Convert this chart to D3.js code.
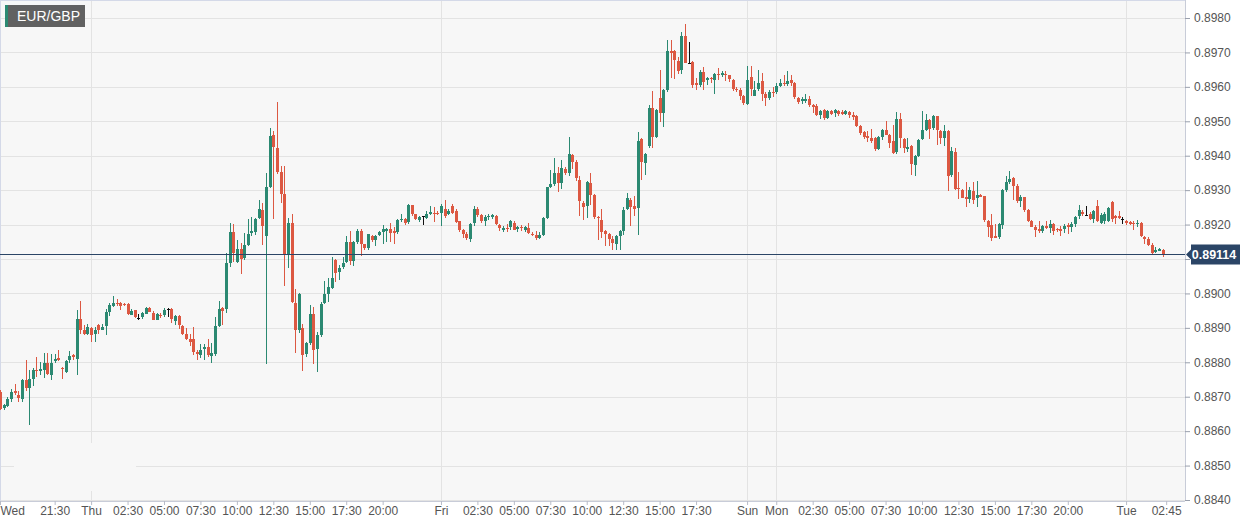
<!DOCTYPE html>
<html>
<head>
<meta charset="utf-8">
<script src="https://cdn.jsdelivr.net/npm/d3@7"></script>
<style>
  html, body { margin: 0; padding: 0; background: #fff; }
  svg { display: block; font-family: "Liberation Sans", Arial, sans-serif; }
</style>
</head>
<body>
<svg id="chart" width="1256" height="527"></svg>
<script>
// EUR/GBP, 15 minute candles
const symbol = "EUR/GBP";
const lastPrice = 0.89114;

// time is counted in hours from Wed 00:00 with the weekend gap taken out
const firstSlot = 17.75;   // Wed 17:45
const slotHours = 0.25;    // 15 min
const viewHours = [17.75, 99.0];

const opens = [
  0.88714, 0.88665, 0.88675, 0.88694, 0.88716, 0.88704, 0.88694, 0.88748, 0.88726, 0.88752,
  0.88779, 0.88775, 0.88779, 0.88798, 0.88764, 0.88804, 0.88811, 0.88784, 0.88771, 0.88804,
  0.88821, 0.88811, 0.88927, 0.88895, 0.88882, 0.88901, 0.88882, 0.88908, 0.88895, 0.88905,
  0.88947, 0.88963, 0.88973, 0.88971, 0.88969, 0.88968, 0.88939, 0.88951, 0.88930, 0.88930,
  0.88942, 0.88959, 0.88944, 0.88924, 0.88937, 0.88937, 0.88956, 0.88954, 0.88920, 0.88934,
  0.88905, 0.88883, 0.88869, 0.88869, 0.88830, 0.88823, 0.88840, 0.88843, 0.88819, 0.88825,
  0.88905, 0.88959, 0.88954, 0.89089, 0.89177, 0.89090, 0.89129, 0.89102, 0.89141, 0.89173,
  0.89177, 0.89218, 0.89241, 0.89167, 0.89309, 0.89461, 0.89422, 0.89354, 0.89289, 0.89115,
  0.89206, 0.88971, 0.88893, 0.88900, 0.88822, 0.88855, 0.88939, 0.88836, 0.88881, 0.88970,
  0.88997, 0.89018, 0.89096, 0.89062, 0.89075, 0.89091, 0.89150, 0.89096, 0.89150, 0.89182,
  0.89143, 0.89130, 0.89167, 0.89156, 0.89169, 0.89177, 0.89183, 0.89188, 0.89182, 0.89177,
  0.89211, 0.89217, 0.89206, 0.89256, 0.89230, 0.89213, 0.89224, 0.89220, 0.89230, 0.89235,
  0.89235, 0.89234, 0.89244, 0.89230, 0.89255, 0.89240, 0.89209, 0.89183, 0.89172, 0.89160,
  0.89203, 0.89245, 0.89228, 0.89211, 0.89220, 0.89222, 0.89225, 0.89199, 0.89186, 0.89191,
  0.89191, 0.89206, 0.89186, 0.89193, 0.89185, 0.89191, 0.89174, 0.89170, 0.89160, 0.89170,
  0.89218, 0.89308, 0.89317, 0.89349, 0.89319, 0.89361, 0.89349, 0.89403, 0.89383, 0.89329,
  0.89264, 0.89254, 0.89322, 0.89286, 0.89222, 0.89214, 0.89182, 0.89173, 0.89158, 0.89144,
  0.89168, 0.89182, 0.89245, 0.89272, 0.89255, 0.89250, 0.89449, 0.89381, 0.89429, 0.89540,
  0.89454, 0.89569, 0.89524, 0.89590, 0.89703, 0.89703, 0.89676, 0.89648, 0.89748, 0.89669,
  0.89672, 0.89611, 0.89604, 0.89643, 0.89618, 0.89625, 0.89621, 0.89638, 0.89635, 0.89638,
  0.89633, 0.89621, 0.89594, 0.89590, 0.89572, 0.89551, 0.89629, 0.89576, 0.89592, 0.89618,
  0.89580, 0.89569, 0.89585, 0.89585, 0.89602, 0.89610, 0.89608, 0.89620, 0.89612, 0.89569,
  0.89559, 0.89561, 0.89566, 0.89546, 0.89544, 0.89517, 0.89534, 0.89510, 0.89530, 0.89524,
  0.89530, 0.89527, 0.89522, 0.89527, 0.89517, 0.89514, 0.89485, 0.89468, 0.89456, 0.89452,
  0.89452, 0.89420, 0.89454, 0.89475, 0.89461, 0.89444, 0.89410, 0.89507, 0.89449, 0.89420,
  0.89429, 0.89374, 0.89400, 0.89449, 0.89475, 0.89504, 0.89478, 0.89514, 0.89471, 0.89452,
  0.89473, 0.89342, 0.89410, 0.89306, 0.89301, 0.89279, 0.89272, 0.89297, 0.89279, 0.89286,
  0.89282, 0.89210, 0.89200, 0.89168, 0.89163, 0.89200, 0.89299, 0.89323, 0.89335, 0.89313,
  0.89270, 0.89279, 0.89241, 0.89210, 0.89194, 0.89187, 0.89182, 0.89197, 0.89190, 0.89202,
  0.89187, 0.89187, 0.89187, 0.89200, 0.89194, 0.89202, 0.89223, 0.89236, 0.89229, 0.89231,
  0.89217, 0.89255, 0.89207, 0.89210, 0.89212, 0.89265, 0.89226, 0.89226, 0.89217, 0.89210,
  0.89207, 0.89204, 0.89200, 0.89204, 0.89165, 0.89158, 0.89142, 0.89119, 0.89124, 0.89126
];

const highs = [
  0.88720, 0.88680, 0.88700, 0.88723, 0.88738, 0.88718, 0.88752, 0.88806, 0.88779, 0.88782,
  0.88816, 0.88801, 0.88827, 0.88827, 0.88825, 0.88823, 0.88837, 0.88785, 0.88806, 0.88832,
  0.88825, 0.88953, 0.88977, 0.88908, 0.88911, 0.88903, 0.88903, 0.88910, 0.88911, 0.88956,
  0.88971, 0.88992, 0.88983, 0.88976, 0.88971, 0.88971, 0.88956, 0.88953, 0.88940, 0.88947,
  0.88961, 0.88961, 0.88950, 0.88942, 0.88944, 0.88959, 0.88959, 0.88959, 0.88936, 0.88936,
  0.88908, 0.88901, 0.88882, 0.88903, 0.88835, 0.88854, 0.88852, 0.88869, 0.88856, 0.88932,
  0.88978, 0.88961, 0.89117, 0.89206, 0.89202, 0.89155, 0.89146, 0.89175, 0.89216, 0.89223,
  0.89218, 0.89272, 0.89264, 0.89350, 0.89481, 0.89471, 0.89555, 0.89371, 0.89371, 0.89218,
  0.89231, 0.89012, 0.89000, 0.88912, 0.88858, 0.88965, 0.88960, 0.88887, 0.88975, 0.89036,
  0.89046, 0.89106, 0.89101, 0.89084, 0.89106, 0.89166, 0.89182, 0.89152, 0.89188, 0.89188,
  0.89145, 0.89174, 0.89169, 0.89169, 0.89182, 0.89198, 0.89191, 0.89205, 0.89193, 0.89217,
  0.89230, 0.89218, 0.89261, 0.89258, 0.89232, 0.89224, 0.89226, 0.89240, 0.89253, 0.89251,
  0.89240, 0.89261, 0.89271, 0.89244, 0.89260, 0.89245, 0.89211, 0.89186, 0.89177, 0.89206,
  0.89254, 0.89251, 0.89230, 0.89228, 0.89230, 0.89232, 0.89228, 0.89201, 0.89196, 0.89203,
  0.89213, 0.89211, 0.89196, 0.89199, 0.89196, 0.89206, 0.89177, 0.89182, 0.89177, 0.89222,
  0.89310, 0.89358, 0.89393, 0.89366, 0.89387, 0.89366, 0.89455, 0.89405, 0.89387, 0.89342,
  0.89269, 0.89327, 0.89349, 0.89288, 0.89225, 0.89245, 0.89185, 0.89175, 0.89166, 0.89170,
  0.89185, 0.89251, 0.89293, 0.89277, 0.89282, 0.89468, 0.89451, 0.89408, 0.89548, 0.89587,
  0.89535, 0.89648, 0.89594, 0.89735, 0.89737, 0.89708, 0.89688, 0.89758, 0.89783, 0.89730,
  0.89674, 0.89625, 0.89650, 0.89657, 0.89630, 0.89630, 0.89640, 0.89655, 0.89647, 0.89645,
  0.89635, 0.89623, 0.89599, 0.89596, 0.89577, 0.89661, 0.89660, 0.89618, 0.89649, 0.89641,
  0.89585, 0.89592, 0.89600, 0.89610, 0.89624, 0.89634, 0.89647, 0.89634, 0.89615, 0.89571,
  0.89571, 0.89579, 0.89573, 0.89551, 0.89549, 0.89532, 0.89537, 0.89534, 0.89532, 0.89537,
  0.89534, 0.89532, 0.89534, 0.89530, 0.89527, 0.89517, 0.89488, 0.89473, 0.89471, 0.89478,
  0.89454, 0.89456, 0.89478, 0.89502, 0.89463, 0.89488, 0.89527, 0.89523, 0.89452, 0.89452,
  0.89432, 0.89403, 0.89449, 0.89531, 0.89521, 0.89507, 0.89519, 0.89516, 0.89475, 0.89490,
  0.89475, 0.89424, 0.89423, 0.89352, 0.89303, 0.89323, 0.89310, 0.89323, 0.89326, 0.89289,
  0.89284, 0.89213, 0.89231, 0.89202, 0.89204, 0.89303, 0.89342, 0.89355, 0.89339, 0.89318,
  0.89287, 0.89281, 0.89245, 0.89212, 0.89200, 0.89210, 0.89200, 0.89210, 0.89214, 0.89204,
  0.89190, 0.89197, 0.89202, 0.89204, 0.89207, 0.89226, 0.89258, 0.89243, 0.89255, 0.89236,
  0.89243, 0.89270, 0.89233, 0.89236, 0.89250, 0.89268, 0.89229, 0.89239, 0.89221, 0.89214,
  0.89210, 0.89210, 0.89212, 0.89207, 0.89168, 0.89163, 0.89146, 0.89134, 0.89132, 0.89129
];

const lows = [
  0.88660, 0.88660, 0.88670, 0.88684, 0.88704, 0.88684, 0.88684, 0.88718, 0.88619, 0.88730,
  0.88757, 0.88762, 0.88755, 0.88762, 0.88750, 0.88798, 0.88804, 0.88751, 0.88769, 0.88798,
  0.88806, 0.88764, 0.88883, 0.88879, 0.88879, 0.88859, 0.88859, 0.88883, 0.88893, 0.88879,
  0.88934, 0.88961, 0.88963, 0.88953, 0.88964, 0.88937, 0.88937, 0.88930, 0.88922, 0.88927,
  0.88940, 0.88945, 0.88922, 0.88922, 0.88930, 0.88932, 0.88932, 0.88915, 0.88908, 0.88898,
  0.88879, 0.88864, 0.88847, 0.88820, 0.88806, 0.88811, 0.88808, 0.88815, 0.88798, 0.88817,
  0.88903, 0.88908, 0.88944, 0.89076, 0.89092, 0.89087, 0.89056, 0.89097, 0.89139, 0.89167,
  0.89169, 0.89216, 0.89141, 0.88796, 0.89306, 0.89216, 0.89348, 0.89262, 0.89021, 0.89073,
  0.88973, 0.88827, 0.88885, 0.88776, 0.88815, 0.88849, 0.88795, 0.88771, 0.88873, 0.88968,
  0.88975, 0.89014, 0.89033, 0.89040, 0.89072, 0.89088, 0.89082, 0.89079, 0.89145, 0.89108,
  0.89125, 0.89127, 0.89150, 0.89137, 0.89166, 0.89145, 0.89150, 0.89150, 0.89145, 0.89174,
  0.89208, 0.89198, 0.89203, 0.89224, 0.89213, 0.89208, 0.89198, 0.89217, 0.89227, 0.89208,
  0.89227, 0.89195, 0.89220, 0.89227, 0.89230, 0.89206, 0.89177, 0.89162, 0.89154, 0.89148,
  0.89196, 0.89222, 0.89206, 0.89196, 0.89213, 0.89216, 0.89199, 0.89180, 0.89177, 0.89177,
  0.89183, 0.89183, 0.89177, 0.89180, 0.89177, 0.89172, 0.89167, 0.89154, 0.89157, 0.89167,
  0.89216, 0.89306, 0.89313, 0.89296, 0.89303, 0.89345, 0.89342, 0.89361, 0.89327, 0.89225,
  0.89213, 0.89218, 0.89257, 0.89216, 0.89154, 0.89161, 0.89137, 0.89137, 0.89127, 0.89127,
  0.89127, 0.89170, 0.89241, 0.89197, 0.89224, 0.89170, 0.89330, 0.89345, 0.89422, 0.89422,
  0.89451, 0.89497, 0.89482, 0.89585, 0.89625, 0.89623, 0.89638, 0.89638, 0.89670, 0.89667,
  0.89596, 0.89590, 0.89601, 0.89590, 0.89606, 0.89611, 0.89580, 0.89621, 0.89630, 0.89616,
  0.89613, 0.89587, 0.89584, 0.89563, 0.89548, 0.89548, 0.89573, 0.89573, 0.89588, 0.89559,
  0.89543, 0.89561, 0.89571, 0.89580, 0.89600, 0.89602, 0.89602, 0.89602, 0.89566, 0.89551,
  0.89551, 0.89553, 0.89541, 0.89524, 0.89514, 0.89507, 0.89504, 0.89507, 0.89519, 0.89512,
  0.89514, 0.89517, 0.89517, 0.89510, 0.89504, 0.89483, 0.89461, 0.89449, 0.89439, 0.89436,
  0.89415, 0.89417, 0.89446, 0.89459, 0.89422, 0.89405, 0.89405, 0.89423, 0.89407, 0.89410,
  0.89345, 0.89342, 0.89395, 0.89446, 0.89473, 0.89449, 0.89475, 0.89432, 0.89434, 0.89429,
  0.89297, 0.89337, 0.89299, 0.89274, 0.89277, 0.89252, 0.89262, 0.89260, 0.89252, 0.89279,
  0.89207, 0.89165, 0.89151, 0.89161, 0.89158, 0.89187, 0.89294, 0.89318, 0.89272, 0.89262,
  0.89252, 0.89236, 0.89207, 0.89192, 0.89163, 0.89175, 0.89175, 0.89187, 0.89175, 0.89171,
  0.89178, 0.89168, 0.89175, 0.89173, 0.89178, 0.89194, 0.89217, 0.89226, 0.89226, 0.89212,
  0.89204, 0.89207, 0.89202, 0.89202, 0.89207, 0.89207, 0.89202, 0.89217, 0.89202, 0.89200,
  0.89200, 0.89183, 0.89194, 0.89163, 0.89144, 0.89139, 0.89113, 0.89117, 0.89122, 0.89107
];

const closes = [
  0.88665, 0.88675, 0.88694, 0.88714, 0.88711, 0.88694, 0.88748, 0.88726, 0.88752, 0.88779,
  0.88775, 0.88781, 0.88798, 0.88767, 0.88798, 0.88809, 0.88806, 0.88782, 0.88804, 0.88817,
  0.88816, 0.88927, 0.88895, 0.88882, 0.88903, 0.88882, 0.88895, 0.88893, 0.88903, 0.88947,
  0.88966, 0.88971, 0.88969, 0.88963, 0.88966, 0.88939, 0.88950, 0.88932, 0.88930, 0.88942,
  0.88959, 0.88947, 0.88924, 0.88940, 0.88935, 0.88951, 0.88956, 0.88924, 0.88934, 0.88908,
  0.88882, 0.88869, 0.88861, 0.88832, 0.88823, 0.88837, 0.88845, 0.88819, 0.88827, 0.88905,
  0.88954, 0.88951, 0.89087, 0.89179, 0.89117, 0.89129, 0.89100, 0.89141, 0.89173, 0.89180,
  0.89216, 0.89245, 0.89194, 0.89309, 0.89458, 0.89425, 0.89351, 0.89289, 0.89115, 0.89206,
  0.88976, 0.88893, 0.88998, 0.88822, 0.88855, 0.88939, 0.88834, 0.88878, 0.88970, 0.88997,
  0.89018, 0.89046, 0.89057, 0.89075, 0.89088, 0.89150, 0.89096, 0.89150, 0.89182, 0.89143,
  0.89130, 0.89172, 0.89156, 0.89167, 0.89177, 0.89186, 0.89188, 0.89177, 0.89177, 0.89213,
  0.89215, 0.89206, 0.89256, 0.89230, 0.89216, 0.89222, 0.89224, 0.89232, 0.89237, 0.89232,
  0.89232, 0.89253, 0.89224, 0.89240, 0.89235, 0.89209, 0.89183, 0.89170, 0.89160, 0.89203,
  0.89245, 0.89228, 0.89211, 0.89222, 0.89224, 0.89228, 0.89203, 0.89189, 0.89191, 0.89189,
  0.89209, 0.89186, 0.89193, 0.89189, 0.89193, 0.89177, 0.89170, 0.89160, 0.89170, 0.89218,
  0.89308, 0.89317, 0.89349, 0.89319, 0.89364, 0.89349, 0.89405, 0.89383, 0.89337, 0.89267,
  0.89251, 0.89324, 0.89288, 0.89222, 0.89218, 0.89180, 0.89173, 0.89158, 0.89146, 0.89168,
  0.89182, 0.89243, 0.89277, 0.89253, 0.89246, 0.89444, 0.89381, 0.89406, 0.89540, 0.89456,
  0.89533, 0.89524, 0.89590, 0.89703, 0.89698, 0.89676, 0.89648, 0.89748, 0.89671, 0.89669,
  0.89606, 0.89606, 0.89643, 0.89614, 0.89625, 0.89621, 0.89638, 0.89635, 0.89640, 0.89635,
  0.89621, 0.89594, 0.89590, 0.89572, 0.89551, 0.89621, 0.89595, 0.89592, 0.89610, 0.89579,
  0.89568, 0.89585, 0.89582, 0.89602, 0.89610, 0.89606, 0.89618, 0.89610, 0.89571, 0.89556,
  0.89566, 0.89566, 0.89549, 0.89541, 0.89517, 0.89530, 0.89510, 0.89530, 0.89522, 0.89532,
  0.89522, 0.89522, 0.89530, 0.89517, 0.89510, 0.89485, 0.89465, 0.89454, 0.89451, 0.89444,
  0.89420, 0.89454, 0.89475, 0.89461, 0.89439, 0.89410, 0.89507, 0.89452, 0.89424, 0.89426,
  0.89376, 0.89400, 0.89446, 0.89475, 0.89504, 0.89478, 0.89514, 0.89473, 0.89452, 0.89471,
  0.89342, 0.89413, 0.89303, 0.89303, 0.89279, 0.89272, 0.89299, 0.89272, 0.89287, 0.89281,
  0.89212, 0.89194, 0.89163, 0.89163, 0.89202, 0.89301, 0.89323, 0.89333, 0.89313, 0.89270,
  0.89281, 0.89241, 0.89210, 0.89194, 0.89184, 0.89182, 0.89197, 0.89190, 0.89202, 0.89183,
  0.89183, 0.89181, 0.89197, 0.89194, 0.89202, 0.89223, 0.89241, 0.89231, 0.89229, 0.89217,
  0.89239, 0.89210, 0.89229, 0.89231, 0.89249, 0.89217, 0.89219, 0.89219, 0.89217, 0.89204,
  0.89202, 0.89200, 0.89204, 0.89165, 0.89158, 0.89142, 0.89119, 0.89126, 0.89129, 0.89114
];

// x axis labels (same hour units as above)
const timeTicks  = [17.75, 21.5, 24, 26.5, 29, 31.5, 34, 36.5, 39, 41.5, 44,
                    48, 50.5, 53, 55.5, 58, 60.5, 63, 65.5,
                    69, 71, 73.5, 76, 78.5, 81, 83.5, 86, 88.5, 91,
                    95, 97.75];
const timeLabels = ["Wed", "21:30", "Thu", "02:30", "05:00", "07:30", "10:00", "12:30", "15:00", "17:30", "20:00",
                    "Fri", "02:30", "05:00", "07:30", "10:00", "12:30", "15:00", "17:30",
                    "Sun", "Mon", "02:30", "05:00", "07:30", "10:00", "12:30", "15:00", "17:30", "20:00",
                    "Tue", "02:45"];
const dayBreaks = [24, 48, 69, 71, 95];
const priceTicks = [0.8840, 0.8850, 0.8860, 0.8870, 0.8880, 0.8890, 0.8900,
                    0.8910, 0.8920, 0.8930, 0.8940, 0.8950, 0.8960, 0.8970, 0.8980];

const plotW = 1185, plotH = 501;
const upColor = "#2b8972", downColor = "#dc5842", flatColor = "#111";

const svg = d3.select("#chart");

const x = d3.scaleLinear().domain(viewHours).range([0, 1184.4]);
const y = d3.scaleLinear().domain([0.8840, 0.8980]).range([500, 18]);

// plot background
svg.append("rect")
  .attr("width", plotW).attr("height", plotH)
  .attr("fill", "#f7f7f7");

const grid = svg.append("g").attr("shape-rendering", "crispEdges");
grid.selectAll("line.h")
  .data(priceTicks)
  .join("line")
  .attr("class", "h")
  .attr("x1", 0).attr("x2", plotW)
  .attr("y1", d => Math.round(y(d)) + 0.5).attr("y2", d => Math.round(y(d)) + 0.5)
  .attr("stroke", "#e3e3e3");
grid.selectAll("line.v")
  .data(dayBreaks)
  .join("line")
  .attr("class", "v")
  .attr("y1", 0).attr("y2", plotH)
  .attr("x1", d => Math.round(x(d)) + 0.5).attr("x2", d => Math.round(x(d)) + 0.5)
  .attr("stroke", "#e3e3e3");

// blank patch near the bottom left corner
svg.append("rect")
  .attr("x", 14).attr("y", 443).attr("width", 122).attr("height", 48)
  .attr("fill", "#f7f7f7");

// borders
svg.append("line").attr("x1", 0).attr("x2", plotW).attr("y1", 0.5).attr("y2", 0.5)
  .attr("stroke", "#d4d9e8");
svg.append("line").attr("x1", 0.5).attr("x2", 0.5).attr("y1", 0).attr("y2", plotH)
  .attr("stroke", "#d4d9e8");

// candles
svg.append("clipPath").attr("id", "plotClip")
  .append("rect").attr("width", plotW).attr("height", plotH);

const candles = svg.append("g")
  .attr("clip-path", "url(#plotClip)")
  .attr("shape-rendering", "crispEdges");

const color = i => closes[i] > opens[i] ? upColor : closes[i] < opens[i] ? downColor : flatColor;
const cx = i => Math.round(x(firstSlot + i * slotHours));

const bars = candles.selectAll("g")
  .data(d3.range(opens.length))
  .join("g");

bars.append("line")
  .attr("x1", i => cx(i) + 0.5).attr("x2", i => cx(i) + 0.5)
  .attr("y1", i => y(highs[i])).attr("y2", i => y(lows[i]))
  .attr("stroke", color);

bars.append("rect")
  .attr("x", i => cx(i) - 1)
  .attr("width", 3)
  .attr("y", i => Math.round(y(Math.max(opens[i], closes[i]))))
  .attr("height", i => Math.max(1, Math.round(Math.abs(y(opens[i]) - y(closes[i])))))
  .attr("fill", color);

// last price line
svg.append("line")
  .attr("x1", 0).attr("x2", plotW)
  .attr("y1", Math.round(y(lastPrice)) + 0.5).attr("y2", Math.round(y(lastPrice)) + 0.5)
  .attr("stroke", "#2b4566")
  .attr("shape-rendering", "crispEdges");

// bottom axis
const xAxis = d3.axisBottom(x)
  .tickValues(timeTicks)
  .tickFormat((d, i) => timeLabels[i])
  .tickSize(4)
  .tickSizeOuter(0);

const gx = svg.append("g")
  .attr("transform", `translate(0,${plotH})`)
  .call(xAxis);
gx.select(".domain").attr("stroke", "#c8ccd8");
gx.selectAll(".tick line").attr("stroke", "#b8bcc8");
gx.selectAll(".tick text")
  .attr("fill", "#555")
  .attr("font-size", 12)
  .attr("font-family", "Liberation Sans, Arial, sans-serif")
  .attr("dy", "0.6em")
  .attr("text-anchor", (d, i) => i === 0 ? "start" : "middle");

// right axis
const yAxis = d3.axisRight(y)
  .tickValues(priceTicks)
  .tickFormat(d3.format(".4f"))
  .tickSize(5)
  .tickSizeOuter(0);

const gy = svg.append("g")
  .attr("transform", `translate(${plotW},0)`)
  .call(yAxis);
gy.select(".domain").attr("stroke", "#c8ccd8").attr("d", `M0.5,0V${plotH}`);
gy.selectAll(".tick line").attr("stroke", "#9aa0ad");
gy.selectAll(".tick text")
  .attr("fill", "#555")
  .attr("font-size", 12)
  .attr("font-family", "Liberation Sans, Arial, sans-serif")
  .attr("x", 9)
  // the label sitting under the last-price tag is covered by it
  .attr("display", d => Math.abs(y(d) - y(lastPrice)) < 12 ? "none" : null);

// last price tag
const tagY = Math.round(y(lastPrice)) + 0.5;
svg.append("path")
  .attr("d", `M${plotW + 1},${tagY} L${plotW + 6},${tagY - 5} V${tagY - 10} H1240 V${tagY + 10} H${plotW + 6} V${tagY + 5} Z`)
  .attr("fill", "#2b4566");
svg.append("text")
  .attr("x", 1214).attr("y", tagY + 4.5)
  .attr("text-anchor", "middle")
  .attr("fill", "#fff")
  .attr("font-size", 12.5)
  .attr("font-weight", "bold")
  .text(d3.format(".5f")(lastPrice));

// symbol tag
const tag = svg.append("g");
tag.append("rect").attr("x", 5).attr("y", 5).attr("width", 80).attr("height", 22).attr("fill", "#616161");
tag.append("rect").attr("x", 5).attr("y", 5).attr("width", 3).attr("height", 22).attr("fill", "#2b8972");
tag.append("text")
  .attr("x", 17).attr("y", 21)
  .attr("fill", "#fff")
  .attr("font-size", 14)
  .text(symbol);
</script>
</body>
</html>
